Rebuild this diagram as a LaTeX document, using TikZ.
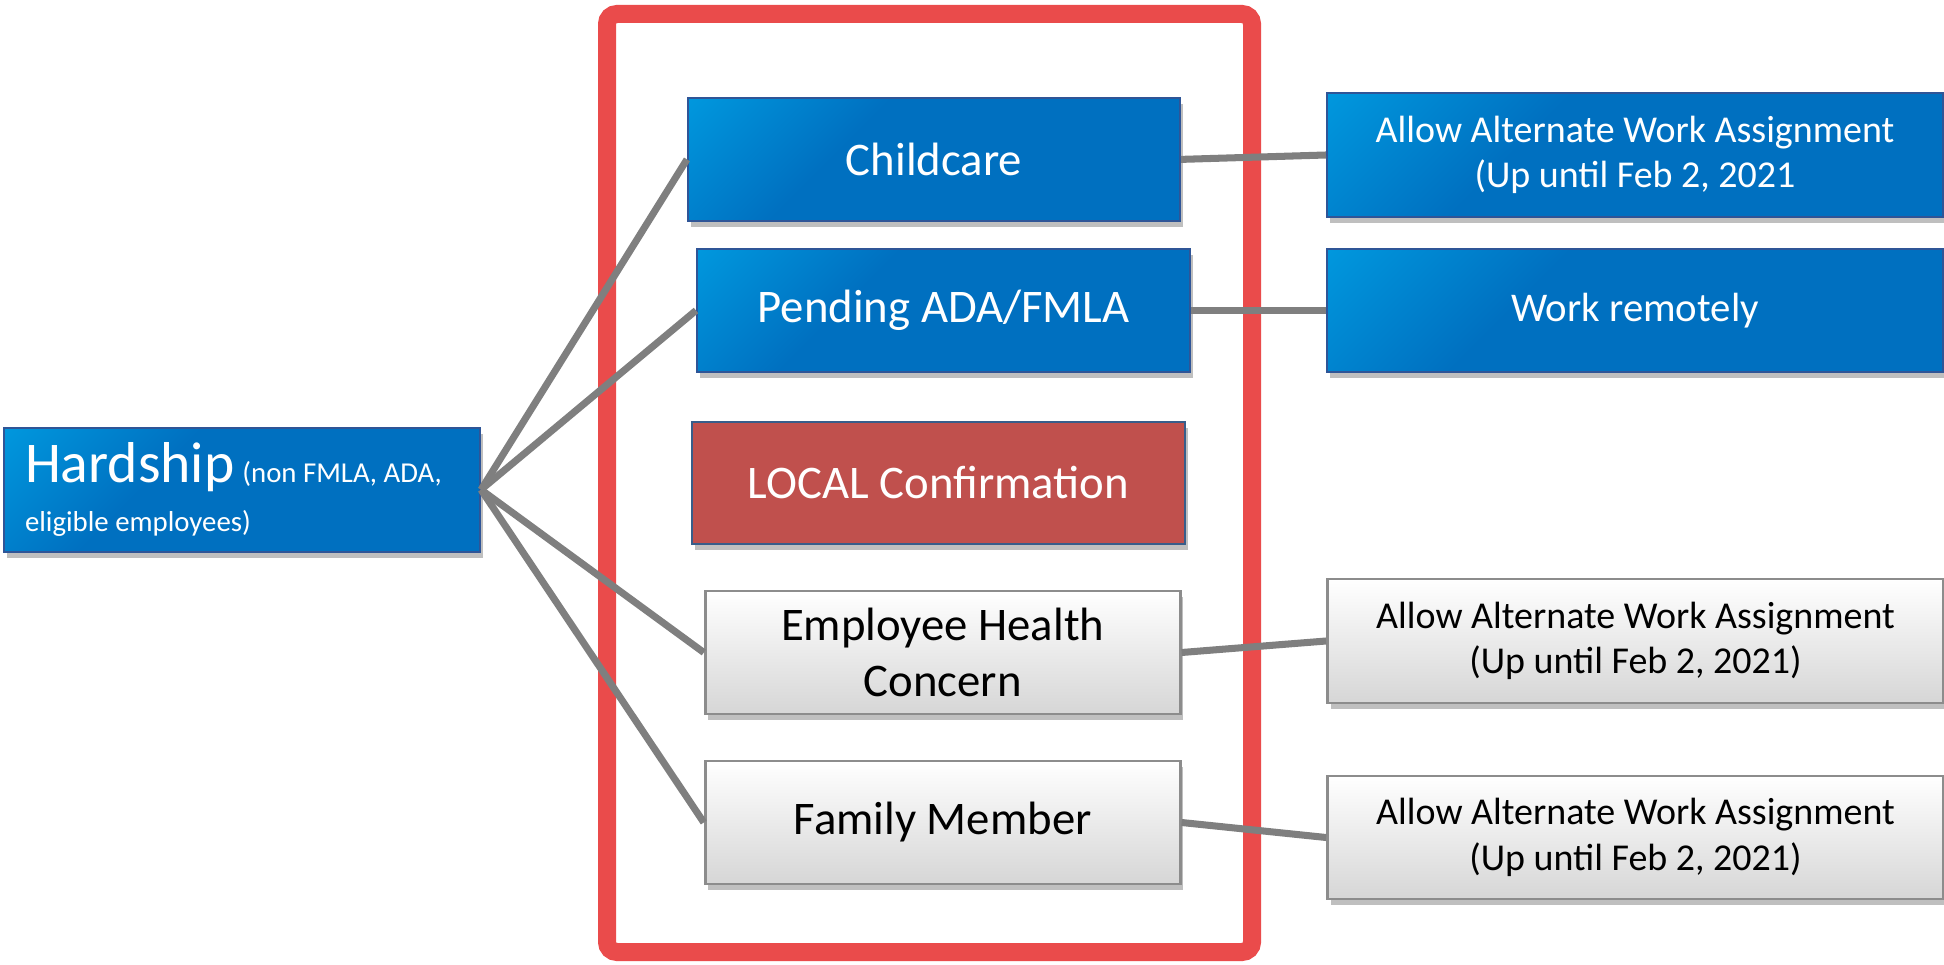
\documentclass[tikz,border=0pt]{standalone}
\usepackage{fontspec}
\setmainfont{Carlito}
\usepackage{tikz}
\usetikzlibrary{shadings,shadows}
\usepackage{xcolor}
\definecolor{boxlight}{HTML}{00B0F0}
\definecolor{boxdark}{HTML}{0070C0}
\definecolor{boxedge}{HTML}{2F5597}
\definecolor{localred}{HTML}{C0504D}
\definecolor{localedge}{HTML}{385D8A}
\definecolor{framered}{HTML}{EA4B4B}
\definecolor{linkgray}{HTML}{7F7F7F}
\definecolor{grayedge}{HTML}{8C8C8C}
\definecolor{graybottom}{HTML}{D6D6D6}
\pgfdeclareverticalshading{blueshade}{100bp}{color(0bp)=(boxdark); color(62bp)=(boxdark); color(100bp)=(boxlight)}
\tikzset{
  optshadow/.style={drop shadow={shadow xshift=0.03cm, shadow yshift=-0.06cm, opacity=0.25, fill=black}},
  bluebox/.style={rectangle, draw=boxedge, line width=0.6pt, shading=blueshade, shading angle=45, text=white, inner sep=0pt, align=center, optshadow},
  graybox/.style={rectangle, draw=grayedge, line width=0.8pt, top color=white, bottom color=graybottom, text=black, inner sep=0pt, align=center, optshadow},
  redbox/.style={rectangle, draw=localedge, line width=0.6pt, fill=localred, text=white, inner sep=0pt, align=center, optshadow},
  midsize/.style={minimum width=4.92cm, minimum height=1.23cm, font=\fontsize{13.3}{16}\selectfont},
  sidesize/.style={minimum width=6.16cm, minimum height=1.24cm, font=\fontsize{10.8}{13}\selectfont},
  link/.style={draw=linkgray, line width=2pt},
  frame/.style={draw=framered, line width=0.18cm, rounded corners=0.1cm}
}
\newcommand{\casebox}[3]{node[#1](#2) {#3}}

\begin{document}
\begin{tikzpicture}
\useasboundingbox (0,0) rectangle (19.44,9.64);
\path[frame] (6.07,0.12) rectangle (12.52,9.50);
\draw (2.42,4.743) \casebox{bluebox, minimum width=4.76cm, minimum height=1.24cm, text width=4.34cm, align=flush left}{hard}{{\fontsize{16.4}{19}\selectfont Hardship} {\fontsize{8.2}{10}\selectfont (non FMLA, ADA,}\\[2pt]{\fontsize{8.2}{10}\selectfont eligible employees)}} ;
  \draw (9.34,8.046) \casebox{bluebox, midsize}{child}{Childcare} ;
  \draw (9.435,6.535) \casebox{bluebox, midsize, minimum width=4.93cm}{ada}{Pending ADA/FMLA} ;
  \draw (9.385,4.812) \casebox{redbox, midsize, minimum width=4.93cm, minimum height=1.22cm}{local}{LOCAL Confirmation} ;
  \draw (9.427,3.115) \casebox{graybox, midsize, minimum width=4.75cm}{health}{Employee Health\\Concern} ;
  \draw (9.427,1.415) \casebox{graybox, midsize, minimum width=4.75cm}{family}{Family Member} ;
    \draw (16.35,8.09) \casebox{bluebox, sidesize}{alt1}{Allow Alternate Work Assignment\\(Up until Feb 2, 2021} ;
    \draw (16.35,6.535) \casebox{bluebox, sidesize, minimum height=1.23cm, font=\fontsize{11.6}{14}\selectfont}{remote}{Work remotely} ;
    \draw (16.355,3.23) \casebox{graybox, sidesize}{alt2}{Allow Alternate Work Assignment\\(Up until Feb 2, 2021)} ;
    \draw (16.355,1.265) \casebox{graybox, sidesize, minimum height=1.23cm}{alt3}{Allow Alternate Work Assignment\\(Up until Feb 2, 2021)} ;
\draw[link] (hard.east) -- (child.west);
\draw[link] (hard.east) -- (ada.west);
\draw[link] (hard.east) -- (health.west);
\draw[link] (hard.east) -- (family.west);
\draw[link] (child.east) -- (alt1.west);
\draw[link] (ada.east) -- (remote.west);
\draw[link] (health.east) -- (alt2.west);
\draw[link] (family.east) -- (alt3.west);
\end{tikzpicture}
\end{document}
